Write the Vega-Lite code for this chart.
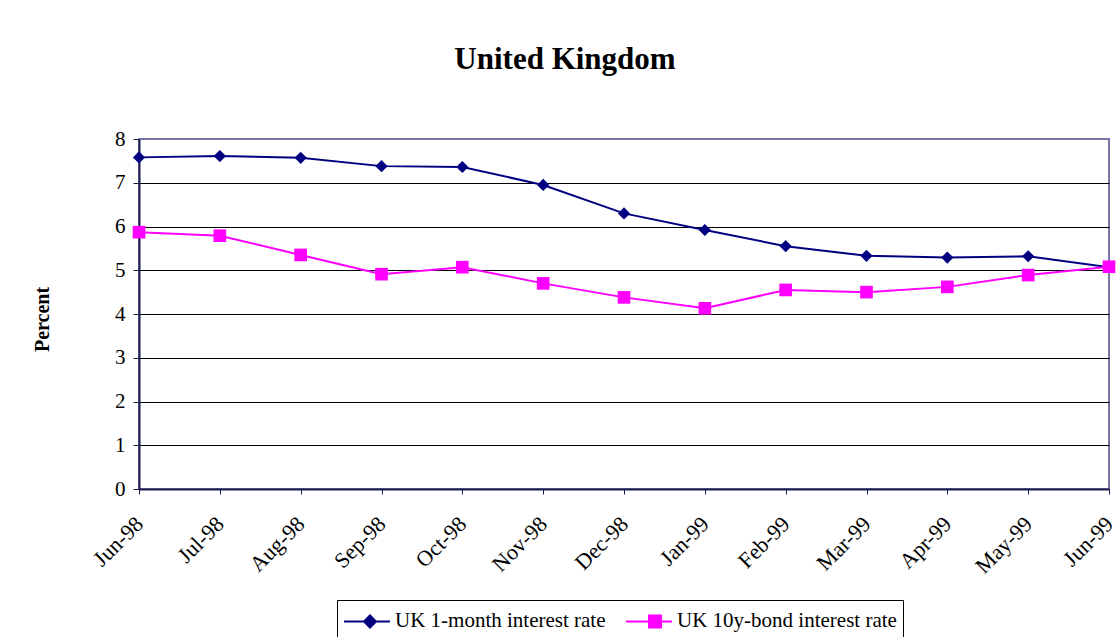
{
  "$schema": "https://vega.github.io/schema/vega-lite/v6.json",
  "width": 970,
  "height": 350,
  "autosize": {"type": "none"},
  "padding": {"left": 139, "top": 139, "right": 9, "bottom": 148},
  "background": "white",
  "title": {
    "text": "United Kingdom",
    "font": "Liberation Serif",
    "fontSize": 31,
    "fontWeight": "bold",
    "color": "black",
    "anchor": "middle",
    "dx": -59,
    "baseline": "alphabetic",
    "offset": 28
  },
  "config": {
    "view": {"stroke": "#7878a8", "strokeWidth": 2},
    "font": "Liberation Serif"
  },
  "data": {
    "values": [
      {"month": "Jun-98", "series": "UK 1-month interest rate", "rate": 7.58},
      {"month": "Jul-98", "series": "UK 1-month interest rate", "rate": 7.61},
      {"month": "Aug-98", "series": "UK 1-month interest rate", "rate": 7.57},
      {"month": "Sep-98", "series": "UK 1-month interest rate", "rate": 7.38},
      {"month": "Oct-98", "series": "UK 1-month interest rate", "rate": 7.36},
      {"month": "Nov-98", "series": "UK 1-month interest rate", "rate": 6.95},
      {"month": "Dec-98", "series": "UK 1-month interest rate", "rate": 6.30},
      {"month": "Jan-99", "series": "UK 1-month interest rate", "rate": 5.92},
      {"month": "Feb-99", "series": "UK 1-month interest rate", "rate": 5.55},
      {"month": "Mar-99", "series": "UK 1-month interest rate", "rate": 5.33},
      {"month": "Apr-99", "series": "UK 1-month interest rate", "rate": 5.29},
      {"month": "May-99", "series": "UK 1-month interest rate", "rate": 5.32},
      {"month": "Jun-99", "series": "UK 1-month interest rate", "rate": 5.07},
      {"month": "Jun-98", "series": "UK 10y-bond interest rate", "rate": 5.87},
      {"month": "Jul-98", "series": "UK 10y-bond interest rate", "rate": 5.79},
      {"month": "Aug-98", "series": "UK 10y-bond interest rate", "rate": 5.35},
      {"month": "Sep-98", "series": "UK 10y-bond interest rate", "rate": 4.91},
      {"month": "Oct-98", "series": "UK 10y-bond interest rate", "rate": 5.07},
      {"month": "Nov-98", "series": "UK 10y-bond interest rate", "rate": 4.70},
      {"month": "Dec-98", "series": "UK 10y-bond interest rate", "rate": 4.38},
      {"month": "Jan-99", "series": "UK 10y-bond interest rate", "rate": 4.13},
      {"month": "Feb-99", "series": "UK 10y-bond interest rate", "rate": 4.55},
      {"month": "Mar-99", "series": "UK 10y-bond interest rate", "rate": 4.50},
      {"month": "Apr-99", "series": "UK 10y-bond interest rate", "rate": 4.62},
      {"month": "May-99", "series": "UK 10y-bond interest rate", "rate": 4.89},
      {"month": "Jun-99", "series": "UK 10y-bond interest rate", "rate": 5.08}
    ]
  },
  "encoding": {
    "x": {
      "field": "month",
      "type": "ordinal",
      "sort": ["Jun-98", "Jul-98", "Aug-98", "Sep-98", "Oct-98", "Nov-98", "Dec-98", "Jan-99", "Feb-99", "Mar-99", "Apr-99", "May-99", "Jun-99"],
      "scale": {"type": "point", "padding": 0},
      "axis": {
        "title": null,
        "labelAngle": -45,
        "labelAlign": "right",
        "labelBaseline": "middle",
        "labelFont": "Liberation Serif",
        "labelFontSize": 22,
        "labelColor": "black",
        "labelPadding": 26,
        "labelDx": -36,
        "labelDy": -12,
        "labelOverlap": false,
        "labelFlush": false,
        "labelBound": false,
        "tickSize": 5,
        "tickColor": "#1c1c50",
        "domainColor": "#1c1c50",
        "domainWidth": 2,
        "grid": false
      }
    },
    "y": {
      "field": "rate",
      "type": "quantitative",
      "scale": {"domain": [0, 8], "nice": false},
      "axis": {
        "title": "Percent",
        "titleFont": "Liberation Serif",
        "titleFontSize": 20,
        "titleFontWeight": "bold",
        "titleColor": "black",
        "titleX": -97,
        "titleY": 180,
        "titleAngle": -90,
        "titleAlign": "center",
        "titleBaseline": "middle",
        "values": [0, 1, 2, 3, 4, 5, 6, 7, 8],
        "labelFont": "Liberation Serif",
        "labelFontSize": 21,
        "labelColor": "black",
        "labelPadding": 8,
        "labelDy": 3,
        "tickSize": 6,
        "tickColor": "#1c1c50",
        "domainColor": "#1c1c50",
        "domainWidth": 2,
        "grid": true,
        "gridWidth": 1,
        "gridColor": {"condition": {"test": "datum.value == 8", "value": "#7878a8"}, "value": "black"}
      }
    },
    "color": {
      "field": "series",
      "type": "nominal",
      "scale": {
        "domain": ["UK 1-month interest rate", "UK 10y-bond interest rate"],
        "range": ["#000080", "#ff00ff"]
      },
      "legend": {
        "orient": "none",
        "legendX": 198,
        "legendY": 461,
        "direction": "horizontal",
        "title": null,
        "strokeColor": "black",
        "fillColor": "white",
        "padding": 6,
        "symbolSize": 784,
        "labelOffset": 22,
        "columnPadding": 16,
        "labelFont": "Liberation Serif",
        "labelFontSize": 21,
        "labelColor": "black",
        "labelLimit": 400,
        "symbolStrokeWidth": 2,
        "encode": {
          "symbols": {
            "update": {
              "shape": {"signal": "datum.value === 'UK 1-month interest rate' ? 'M-1,0L2.286,0M0.857,-0.43L1.287,0L0.857,0.43L0.427,0Z' : 'M-1,0L2.286,0M0.64,-0.43L1.5,-0.43L1.5,0.43L0.64,0.43Z'"},
              "stroke": {"scale": "color", "field": "value"},
              "fill": {"scale": "color", "field": "value"},
              "strokeWidth": {"value": 2},
              "opacity": {"value": 1}
            }
          }
        }
      }
    }
  },
  "layer": [
    {"mark": {"type": "line", "strokeWidth": 2}},
    {
      "transform": [{"filter": "datum.series === 'UK 1-month interest rate'"}],
      "mark": {"type": "point", "filled": true, "opacity": 1, "size": 150, "shape": "diamond"}
    },
    {
      "transform": [{"filter": "datum.series === 'UK 10y-bond interest rate'"}],
      "mark": {"type": "point", "filled": true, "opacity": 1, "size": 160, "shape": "square"}
    }
  ]
}
